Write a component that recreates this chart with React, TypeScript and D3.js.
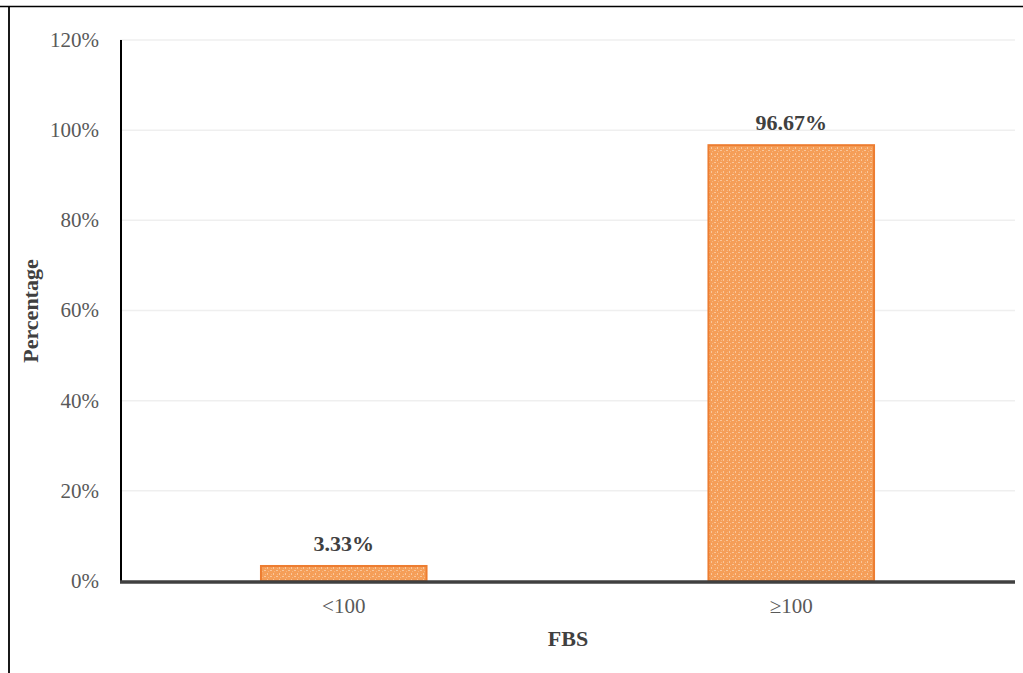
import React from "react";
import * as d3 from "d3";

const categories = ["<100", "≥100"];
const values = [3.33, 96.67];
const yTicks = [0, 20, 40, 60, 80, 100, 120];

export default function App() {
  const W = 1023, H = 673;
  const left = 120, right = 1015, top = 40, bottom = 581;
  const x = d3.scaleBand<string>().domain(categories).range([left, right]).paddingInner(0.63).paddingOuter(0.315);
  const y = d3.scaleLinear().domain([0, 120]).range([bottom, top]);
  const font = "'Liberation Serif', 'Times New Roman', serif";
  return (
    <svg width={W} height={H} style={{ position: "absolute", left: 0, top: 0 }} fontFamily={font}>
      <defs>
        <pattern id="dots" width="6" height="6" patternUnits="userSpaceOnUse">
          <rect width="6" height="6" fill="#F59E58" />
          <rect x="0" y="0" width="2" height="1" fill="#FAC79B" />
          <rect x="3" y="3" width="1" height="2" fill="#FAC79B" />
          <rect x="4" y="1" width="1" height="1" fill="#F8B47C" />
          <rect x="1" y="4" width="1" height="1" fill="#F8B47C" />
        </pattern>
      </defs>
      <line x1={0} x2={W} y1={6.5} y2={6.5} stroke="#000" strokeWidth={1.5} />
      <line x1={9} x2={9} y1={6} y2={H} stroke="#000" strokeWidth={1.8} />
      {yTicks.filter(t => t > 0).map(t => (
        <line key={t} x1={left} x2={right} y1={y(t)} y2={y(t)} stroke="#EFEFEF" strokeWidth={1.5} />
      ))}
      {yTicks.map(t => (
        <text key={t} x={99} y={y(t)} dy="0.33em" textAnchor="end" fontSize={21} fill="#595959">{t}%</text>
      ))}
      <line x1={121} x2={121} y1={top} y2={bottom} stroke="#000" strokeWidth={2} />
      {categories.map((c, i) => (
        <g key={c}>
          <rect x={x(c)!} y={y(values[i])} width={x.bandwidth()} height={bottom - y(values[i])}
            fill="url(#dots)" stroke="#ED7D31" strokeWidth={2} />
          <text x={x(c)! + x.bandwidth() / 2} y={y(values[i]) - 15} textAnchor="middle" fontSize={22} fontWeight="bold" fill="#404040">{values[i].toFixed(2)}%</text>
          <text x={x(c)! + x.bandwidth() / 2} y={613} textAnchor="middle" fontSize={21} fill="#595959">{c}</text>
        </g>
      ))}
      <line x1={left} x2={right} y1={582} y2={582} stroke="#404040" strokeWidth={3.5} />
      <text x={568} y={646} textAnchor="middle" fontSize={22} fontWeight="bold" fill="#404040">FBS</text>
      <text transform={`translate(38,${311}) rotate(-90)`} textAnchor="middle" fontSize={22} fontWeight="bold" fill="#404040">Percentage</text>
    </svg>
  );
}
